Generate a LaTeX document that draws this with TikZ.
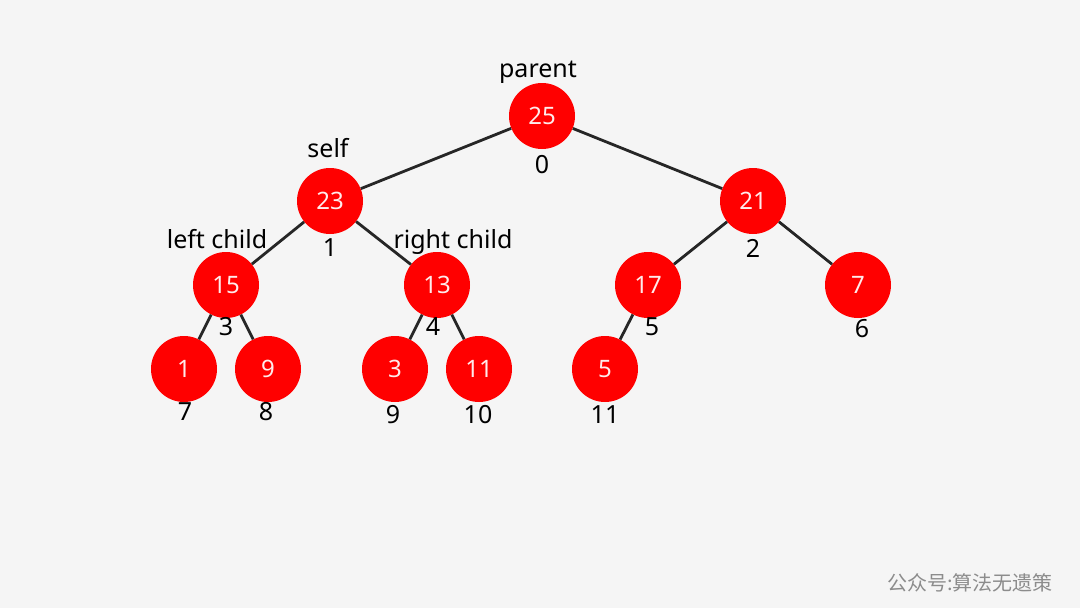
\documentclass[tikz,border=0pt]{standalone}
\usepackage{fontspec}
\setmainfont{Noto Sans}
\newfontfamily\cjk{Noto Sans CJK SC}
\definecolor{bg}{HTML}{F5F5F5}
\definecolor{heapred}{HTML}{FF0000}
\definecolor{mark}{HTML}{8C8C8C}

\begin{document}
\begin{tikzpicture}[x=1pt,y=-1pt,
	heap/.style={circle,fill=heapred,minimum size=66pt,inner sep=0pt,text=white!92!heapred,font=\fontsize{24}{24}\selectfont},
	idx/.style={inner sep=0pt,font=\fontsize{25}{25}\selectfont},
	tag/.style={inner sep=0pt,anchor=base,font=\fontsize{25}{25}\selectfont},
	link/.style={line width=2.8pt,draw=black!85}]

	\fill[bg] (0,0) rectangle (1080,608);
	\useasboundingbox (0,0) rectangle (1080,608);

	% heap nodes
	\node[heap] (n0) at (542,116) {25};
	\node[heap] (n1) at (330,201) {23};
	\node[heap] (n2) at (753,201) {21};
	\node[heap] (n3) at (226,285) {15};
	\node[heap] (n4) at (437,285) {13};
	\node[heap] (n5) at (648,285) {17};
	\node[heap] (n6) at (858,285) {7};
	\node[heap] (n7) at (184,369) {1};
	\node[heap] (n8) at (268,369) {9};
	\node[heap] (n9) at (395,369) {3};
	\node[heap] (n10) at (479,369) {11};
	\node[heap] (n11) at (605,369) {5};

	\draw[link] (n0) -- (n1);
	\draw[link] (n0) -- (n2);
	\draw[link] (n1) -- (n3);
	\draw[link] (n1) -- (n4);
	\draw[link] (n2) -- (n5);
	\draw[link] (n2) -- (n6);
	\draw[link] (n3) -- (n7);
	\draw[link] (n3) -- (n8);
	\draw[link] (n4) -- (n9);
	\draw[link] (n4) -- (n10);
	\draw[link] (n5) -- (n11);

	% array indices
	\node[idx] (i0) at (542,165) {0};
	\node[idx] (i1) at (330,248) {1};
	\node[idx] (i2) at (753,248) {2};
	\node[idx] (i3) at (226,327) {3};
	\node[idx] (i4) at (433,327) {4};
	\node[idx] (i5) at (652,327) {5};
	\node[idx] (i6) at (862,329) {6};
	\node[idx] (i7) at (185,412) {7};
	\node[idx] (i8) at (266,412) {8};
	\node[idx] (i9) at (393,415) {9};
	\node[idx] (i10) at (478,415) {10};
	\node[idx] (i11) at (605,415) {11};

	% roles
	\node[tag] (parent) at (538,77) {parent};
	\node[tag] (self) at (328,157) {self};
	\node[tag] (left) at (217,248) {left child};
	\node[tag] (right) at (453,248) {right child};

	\node[text=mark,font=\cjk\fontsize{20}{20}\selectfont] (wm) at (970,583) {公众号:算法无遗策};

\end{tikzpicture}
\end{document}
